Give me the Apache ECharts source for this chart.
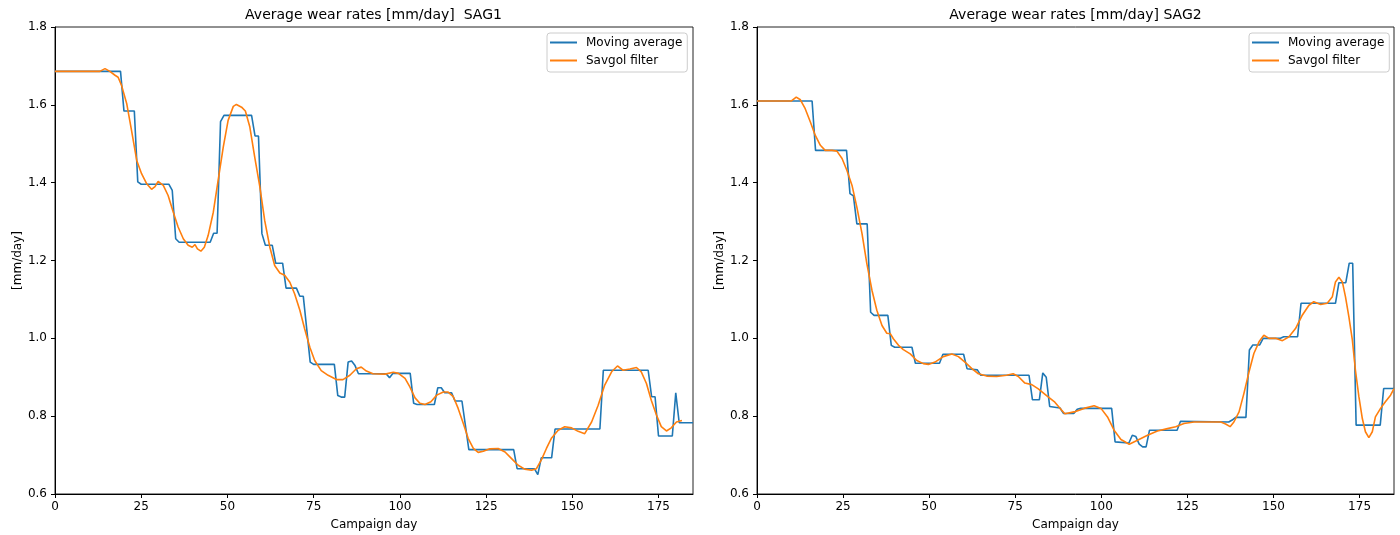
<!DOCTYPE html>
<html>
<head>
<meta charset="utf-8">
<script src="https://cdn.jsdelivr.net/npm/echarts@6/dist/echarts.min.js"></script>
<style>html,body{margin:0;padding:0;background:#fff}#c{width:1400px;height:535px}</style>
</head>
<body>
<div id="c"></div>
<script>
// ---------- data ----------
const titles = ['Average wear rates [mm/day]  SAG1', 'Average wear rates [mm/day] SAG2'];
const seriesNames = ['Moving average', 'Savgol filter'];
const xTickValues = [0, 25, 50, 75, 100, 125, 150, 175];
const yTickValues = [0.6, 0.8, 1.0, 1.2, 1.4, 1.6, 1.8];

// SAG1 moving average
const sag1MovDay  = [0, 19, 20, 23, 24, 25, 33, 34, 35, 36, 45, 46, 47, 48, 49, 57, 58, 59, 60, 61, 63, 64, 66, 67, 70, 71, 72, 74, 75, 81, 82, 83, 84, 85, 86, 87, 88, 96, 97, 98, 103, 104, 105, 110, 111, 112, 113, 115, 116, 118, 120, 133, 134, 139, 140, 141, 144, 145, 158, 159, 172, 173, 174, 175, 179, 180, 181, 185];
const sag1MovRate = [1.686, 1.686, 1.584, 1.584, 1.402, 1.396, 1.396, 1.380, 1.256, 1.247, 1.247, 1.270, 1.270, 1.557, 1.573, 1.573, 1.520, 1.520, 1.269, 1.239, 1.239, 1.193, 1.193, 1.129, 1.129, 1.108, 1.108, 0.939, 0.933, 0.933, 0.853, 0.849, 0.849, 0.939, 0.942, 0.930, 0.909, 0.909, 0.899, 0.910, 0.910, 0.833, 0.830, 0.830, 0.873, 0.873, 0.860, 0.860, 0.839, 0.839, 0.714, 0.714, 0.665, 0.665, 0.650, 0.693, 0.693, 0.767, 0.767, 0.918, 0.918, 0.850, 0.850, 0.749, 0.749, 0.860, 0.783, 0.783];

// SAG1 Savgol filter
const sag1SavDay  = [0, 13, 14.5, 15.9, 17.4, 18.3, 19.3, 20.8, 22.2, 23.7, 25.1, 26.6, 28, 29, 29.9, 31.4, 32.8, 34.3, 35.7, 37.2, 38.6, 39.8, 40.6, 41.3, 42.3, 43.3, 44.4, 45.9, 47.3, 48.8, 50.2, 51.7, 52.6, 54.1, 55.2, 56.5, 57.9, 59.4, 60.8, 62.3, 63.7, 65.2, 66.6, 68.1, 69.5, 71, 72.4, 73.9, 75.3, 77.2, 79.2, 81.6, 83.5, 85.5, 87.4, 88.8, 90.3, 92.2, 95.7, 98.1, 99.6, 101.5, 102.9, 104.4, 105.8, 107.3, 109, 110.7, 112.6, 114, 115.5, 116.9, 118.4, 119.8, 121.3, 122.7, 124.2, 126.1, 128.5, 130.5, 132.4, 134.3, 136.2, 138.2, 139.6, 141.1, 142.5, 144, 145.9, 147.8, 149.8, 151.7, 153.6, 155.6, 157.5, 159.4, 161.4, 163.1, 164.7, 166.7, 168.6, 170, 171.5, 172.9, 174.4, 175.8, 177.3, 178.7, 180.2, 181.8];
const sag1SavRate = [1.686, 1.686, 1.693, 1.686, 1.676, 1.671, 1.650, 1.603, 1.534, 1.457, 1.423, 1.397, 1.383, 1.390, 1.403, 1.393, 1.367, 1.324, 1.286, 1.256, 1.239, 1.234, 1.241, 1.230, 1.224, 1.234, 1.264, 1.324, 1.406, 1.492, 1.560, 1.596, 1.601, 1.594, 1.584, 1.543, 1.466, 1.389, 1.303, 1.234, 1.187, 1.168, 1.162, 1.144, 1.114, 1.072, 1.024, 0.977, 0.943, 0.917, 0.905, 0.894, 0.894, 0.905, 0.922, 0.926, 0.916, 0.909, 0.908, 0.913, 0.910, 0.897, 0.875, 0.847, 0.833, 0.830, 0.837, 0.854, 0.862, 0.862, 0.850, 0.820, 0.781, 0.743, 0.717, 0.707, 0.710, 0.716, 0.717, 0.708, 0.691, 0.674, 0.664, 0.661, 0.665, 0.689, 0.717, 0.744, 0.764, 0.773, 0.770, 0.761, 0.755, 0.785, 0.828, 0.880, 0.914, 0.929, 0.918, 0.921, 0.925, 0.914, 0.884, 0.841, 0.803, 0.773, 0.762, 0.770, 0.785, 0.789];

// SAG2 moving average
const sag2MovDay  = [0, 16, 17, 26, 27, 28, 29, 32, 33, 34, 38, 39, 40, 45, 46, 53, 54, 60, 61, 64, 65, 79, 80, 82, 83, 84, 85, 88, 89, 92, 93, 94, 103, 104, 108, 109, 110, 111, 112, 113, 114, 122, 123, 137, 138, 139, 142, 143, 144, 146, 147, 152, 153, 157, 158, 168, 169, 171, 172, 173, 174, 181, 182, 185];
const sag2MovRate = [1.610, 1.610, 1.483, 1.483, 1.372, 1.366, 1.294, 1.294, 1.067, 1.059, 1.059, 0.982, 0.977, 0.977, 0.936, 0.936, 0.959, 0.959, 0.922, 0.919, 0.905, 0.905, 0.842, 0.842, 0.911, 0.900, 0.825, 0.821, 0.807, 0.807, 0.818, 0.820, 0.820, 0.734, 0.731, 0.751, 0.748, 0.728, 0.721, 0.721, 0.764, 0.764, 0.787, 0.785, 0.790, 0.797, 0.797, 0.970, 0.983, 0.983, 1.000, 1.000, 1.004, 1.004, 1.090, 1.090, 1.143, 1.143, 1.193, 1.193, 0.777, 0.777, 0.871, 0.871];

// SAG2 Savgol filter
const sag2SavDay  = [0, 10, 11.4, 12.6, 14, 15.5, 16.9, 18.4, 19.8, 21.8, 23.2, 24.7, 26.1, 27.6, 29, 30.5, 31.9, 33.4, 34.8, 36.3, 37.7, 38.7, 39.6, 41.1, 42.5, 44.5, 46.4, 48.3, 49.8, 51.7, 54.1, 56.6, 58.5, 60.4, 62.4, 64.3, 66.7, 69.6, 72.5, 74.4, 75.9, 77.8, 79.8, 81.7, 84.1, 86.5, 88.5, 89.4, 92.1, 95, 97.9, 99.9, 101.8, 103.7, 105.7, 108.1, 110.5, 113.4, 116.3, 119.2, 121.6, 124, 126.9, 130.8, 134.7, 136.1, 137.4, 138.5, 140, 141.4, 142.9, 144.3, 145.8, 147.2, 148.7, 150.6, 152.6, 154.5, 156.4, 158.4, 160.3, 161.7, 163.7, 165.6, 167.1, 168, 169, 170, 170.9, 171.9, 172.9, 173.8, 174.8, 175.8, 176.7, 177.7, 178.7, 179.6, 181.1, 182.5, 184, 185];
const sag2SavRate = [1.610, 1.610, 1.620, 1.613, 1.590, 1.556, 1.522, 1.496, 1.483, 1.483, 1.481, 1.462, 1.432, 1.393, 1.337, 1.269, 1.192, 1.123, 1.072, 1.033, 1.013, 1.012, 0.999, 0.982, 0.971, 0.960, 0.943, 0.935, 0.933, 0.939, 0.953, 0.960, 0.953, 0.939, 0.922, 0.909, 0.903, 0.902, 0.905, 0.909, 0.902, 0.885, 0.881, 0.870, 0.853, 0.836, 0.815, 0.806, 0.811, 0.820, 0.827, 0.820, 0.798, 0.764, 0.740, 0.728, 0.738, 0.751, 0.762, 0.768, 0.773, 0.781, 0.785, 0.785, 0.785, 0.780, 0.773, 0.785, 0.811, 0.858, 0.914, 0.961, 0.991, 1.008, 1.000, 1.000, 0.994, 1.004, 1.025, 1.060, 1.085, 1.094, 1.087, 1.090, 1.107, 1.145, 1.157, 1.145, 1.107, 1.055, 0.996, 0.918, 0.850, 0.794, 0.760, 0.745, 0.760, 0.798, 0.820, 0.837, 0.854, 0.871];

// ---------- chart ----------
const FONT = 'DejaVu Sans';
const BLUE = '#1f77b4', ORANGE = '#ff7f0e';
const zip = (xs, ys) => xs.map((x, i) => [x, ys[i]]);

const grids = [
  { left: 55, top: 27, width: 638, height: 467 },
  { left: 757, top: 27, width: 637, height: 467 }
];
const titleCenters = [373.5, 1075.5];

function xAxis(i) {
  return {
    type: 'value', gridIndex: i, min: 0, max: 185,
    name: 'Campaign day', nameLocation: 'middle', nameGap: 25,
    nameTextStyle: { fontFamily: FONT, fontSize: 12, color: '#000' },
    axisLine: { show: true, onZero: false, lineStyle: { color: '#000', width: 1 } },
    axisTick: { show: true, length: 4, customValues: xTickValues, lineStyle: { color: '#000' } },
    axisLabel: { fontFamily: FONT, fontSize: 12, color: '#000', margin: 7, customValues: xTickValues },
    splitLine: { show: false }
  };
}
function yAxis(i) {
  return {
    type: 'value', gridIndex: i, min: 0.6, max: 1.8, interval: 0.2,
    name: '[mm/day]', nameLocation: 'middle', nameGap: 31,
    nameTextStyle: { fontFamily: FONT, fontSize: 12, color: '#000' },
    axisLine: { show: true, onZero: false, lineStyle: { color: '#000', width: 1 } },
    axisTick: { show: true, length: 4, customValues: yTickValues, lineStyle: { color: '#000' } },
    axisLabel: { fontFamily: FONT, fontSize: 12, color: '#000', margin: 8, customValues: yTickValues,
                 formatter: v => v.toFixed(1) },
    splitLine: { show: false }
  };
}
function legend(left) {
  return {
    orient: 'vertical', left: left, top: 33,
    icon: 'rect', itemWidth: 27, itemHeight: 2, itemGap: 5,
    padding: [3, 5, 5, 3],
    borderColor: '#cccccc', borderWidth: 1, borderRadius: 3,
    backgroundColor: 'rgba(255,255,255,0.8)',
    textStyle: { fontFamily: FONT, fontSize: 12, lineHeight: 13, color: '#000', padding: [0, 0, 0, 4] },
    data: seriesNames,
    selectedMode: false
  };
}
function line(name, i, xs, ys, color, z) {
  return {
    type: 'line', name: name, xAxisIndex: i, yAxisIndex: i,
    data: zip(xs, ys), symbol: 'none', showSymbol: false, smooth: false,
    lineStyle: { color: color, width: 1.6 }, itemStyle: { color: color },
    z: z, animation: false
  };
}

const chart = echarts.init(document.getElementById('c'), null, { renderer: 'canvas' });
chart.setOption({
  animation: false,
  backgroundColor: '#fff',
  textStyle: { fontFamily: FONT },
  title: titles.map((t, i) => ({
    text: t, left: titleCenters[i] - 5, top: 3, textAlign: 'center',
    textStyle: { fontFamily: FONT, fontSize: 14, fontWeight: 'normal', color: '#000' }
  })),
  grid: grids.map(g => Object.assign({ show: true, borderColor: '#222', borderWidth: 1,
    backgroundColor: 'transparent', containLabel: false, outerBoundsMode: 'none' }, g)),
  xAxis: [xAxis(0), xAxis(1)],
  yAxis: [yAxis(0), yAxis(1)],
  legend: [legend(547), legend(1249)],
  series: [
    line(seriesNames[0], 0, sag1MovDay, sag1MovRate, BLUE, 2),
    line(seriesNames[1], 0, sag1SavDay, sag1SavRate, ORANGE, 3),
    line(seriesNames[0], 1, sag2MovDay, sag2MovRate, BLUE, 2),
    line(seriesNames[1], 1, sag2SavDay, sag2SavRate, ORANGE, 3)
  ]
});
</script>
</body>
</html>
